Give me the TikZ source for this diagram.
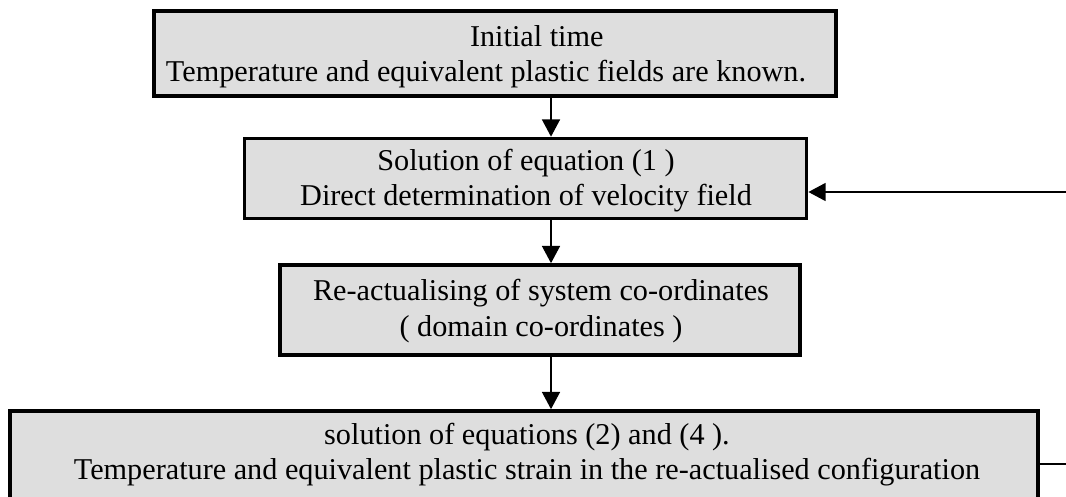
\documentclass[tikz,border=0pt]{standalone}
\usepackage{fontspec}
\setmainfont{Liberation Serif}
\usetikzlibrary{arrows.meta,positioning,calc}
\tikzset{
  doboz/.style={draw,line width=2.6pt,fill=black!13,inner sep=0pt},
  felirat/.style={align=center,inner sep=0pt,font=\fontsize{21.5}{25}\selectfont},
  nyil/.style={-{Triangle[length=4.3mm,width=4.5mm]},line width=1pt},
  vonal/.style={line width=1pt},
}
\begin{document}
\begin{tikzpicture}[x=0.025cm,y=-0.025cm]
  \useasboundingbox (0,0) rectangle (1066,496);
  \clip (0,0) rectangle (1066,496);
  % dobozok
  \node[doboz,minimum width=17.05cm,minimum height=2.12cm] (kezdo) at (495,53.5) {};
  \node[doboz,minimum width=14.05cm,minimum height=2.0cm] (sebesseg) at (525.5,178.5) {};
  \node[doboz,minimum width=13.0cm,minimum height=2.25cm] (koord) at (540,310) {};
  \node[doboz,minimum width=25.7cm,minimum height=2.25cm] (homers) at (524,456) {};
  % szovegek
  \node[felirat,align=left] (kezdo-t) at (486,57)
    {\hspace*{7.6cm}Initial time\\Temperature and equivalent plastic fields are known.};
  \node[felirat] (sebesseg-t) at (526,181)
    {Solution of equation (1 )\\Direct determination of velocity field};
  \node[felirat] (koord-t) at (541,311)
    {Re-actualising of system co-ordinates\\( domain co-ordinates )};
  \node[felirat] (homers-t) at (527,455)
    {solution of equations (2) and (4 ).\\Temperature and equivalent plastic strain in the re-actualised configuration};
  % nyilak
  \coordinate (tengely) at (551,0);
  \draw[nyil] (kezdo.south -| tengely) -- (sebesseg.north -| tengely);
  \draw[nyil] (sebesseg.south -| tengely) -- (koord.north -| tengely);
  \draw[nyil] (koord.south -| tengely) -- (homers.north -| tengely);
  % visszacsatolas
  \coordinate (jobb-le) at (1072,464);
  \coordinate (jobb-fel) at (1072,192);
  \draw[vonal] (homers.east |- jobb-le) -- (jobb-le) -- (jobb-fel);
  \draw[nyil] (jobb-fel) -- (sebesseg.east |- jobb-fel);
\end{tikzpicture}
\end{document}
